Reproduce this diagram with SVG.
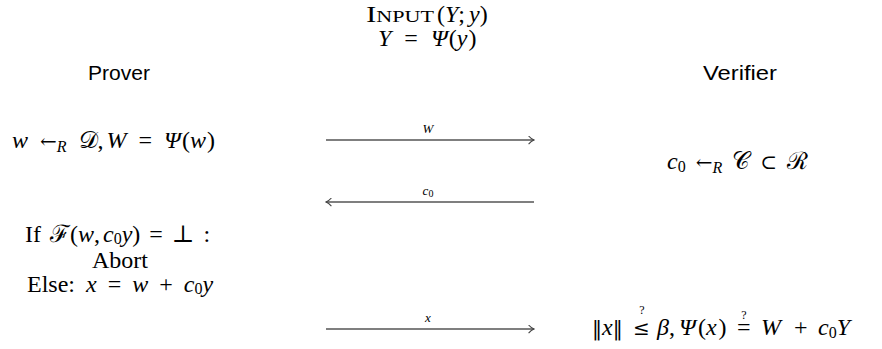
<svg xmlns="http://www.w3.org/2000/svg" width="882" height="349" viewBox="0 0 882 349">
<style>
.m{font-family:"Liberation Serif","DejaVu Serif",serif;font-size:24px;fill:#000}
.ws{word-spacing:4px}
.i{font-style:italic}
.sub{font-size:16px}
.d{font-family:"DejaVu Serif",serif;font-size:20px}
.q{font-family:"Liberation Serif",serif;font-size:12px;fill:#000}
.s{font-family:"Liberation Sans","DejaVu Sans",sans-serif;font-size:20px;fill:#000}
.lbl{font-family:"Liberation Serif",serif;font-style:italic;font-size:13px;fill:#000}
.ar{stroke:#555;stroke-width:1.3;fill:none}
</style>
<defs>
<marker id="ah" viewBox="0 0 10 10" refX="9" refY="5" markerWidth="9" markerHeight="9" markerUnits="userSpaceOnUse" orient="auto-start-reverse">
<path d="M3,0.5 Q6,4 9,5 Q6,6 3,9.5" stroke="#444" stroke-width="1.2" fill="none"/>
</marker>
</defs>
<g id="header">
<text class="m" x="366" y="22" textLength="68" lengthAdjust="spacingAndGlyphs" font-variant="small-caps">Input</text>
<text class="m" x="437" y="22">(<tspan class="i">Y</tspan>;<tspan class="i" dx="4">y</tspan>)</text>
<text class="m" x="378" y="46"><tspan class="i">Y</tspan><tspan dx="13">=</tspan><tspan class="i" dx="13">Ψ</tspan><tspan dx="1">(</tspan><tspan class="i">y</tspan><tspan dx="1">)</tspan></text>
</g>
<g id="prover"><text class="s" x="88" y="80" textLength="62" lengthAdjust="spacingAndGlyphs">Prover</text></g>
<g id="verifier"><text class="s" x="703" y="80" textLength="74" lengthAdjust="spacingAndGlyphs">Verifier</text></g>
<g id="step1"><text class="m" x="12" y="148" style="word-spacing:6px"><tspan class="i">w</tspan> <tspan class="d">←</tspan><tspan class="i sub" dy="4">R</tspan><tspan dy="-4"> 𝒟,</tspan><tspan class="i" dx="3">W</tspan> = <tspan class="i">Ψ</tspan><tspan dx="1">(</tspan><tspan class="i">w</tspan><tspan dx="1">)</tspan></text></g>
<g id="step2"><text class="m ws" x="667" y="169"><tspan class="i">c</tspan><tspan class="sub" dy="3">0</tspan><tspan dy="-3"> </tspan><tspan class="d">←</tspan><tspan class="i sub" dy="4">R</tspan><tspan dy="-4"> 𝒞 </tspan><tspan class="d">⊂</tspan> ℛ</text></g>
<g id="step3">
<text class="m" x="25" y="242" style="word-spacing:3px">If <tspan>ℱ</tspan>(<tspan class="i">w</tspan>,<tspan class="i" dx="3">c</tspan><tspan class="sub" dy="2">0</tspan><tspan class="i" dy="-2">y</tspan>) = ⊥ :</text>
<text class="m" x="120" y="268" text-anchor="middle">Abort</text>
<text class="m" x="27" y="292" style="word-spacing:5px">Else: <tspan class="i">x</tspan> = <tspan class="i">w</tspan> + <tspan class="i">c</tspan><tspan class="sub" dy="2">0</tspan><tspan class="i" dy="-2">y</tspan></text>
</g>
<g id="step4">
<text class="m" y="335"><tspan class="d" x="592">‖</tspan><tspan class="i">x</tspan><tspan class="d">‖</tspan><tspan class="d" x="633" font-size="22">≤</tspan><tspan class="i" x="657">β</tspan>,<tspan class="i" x="679">Ψ</tspan><tspan dx="2">(</tspan><tspan class="i">x</tspan><tspan dx="2">)</tspan><tspan x="737">=</tspan><tspan class="i" x="761">W</tspan><tspan x="794">+</tspan><tspan class="i" x="818">c</tspan><tspan class="sub" dy="3">0</tspan><tspan class="i" dy="-3">Y</tspan></text>
<text class="q" x="642" y="314" text-anchor="middle">?</text>
<text class="q" x="744" y="319" text-anchor="middle">?</text>
</g>
<g id="connectors">
<line class="ar" x1="326" y1="140" x2="534" y2="140" marker-end="url(#ah)"/>
<text class="lbl" x="428" y="133" text-anchor="middle">W</text>
<line class="ar" x1="534" y1="202" x2="326" y2="202" marker-end="url(#ah)"/>
<text class="lbl" x="428" y="195" text-anchor="middle">c<tspan font-style="normal" font-size="10" dy="2">0</tspan></text>
<line class="ar" x1="326" y1="329" x2="534" y2="329" marker-end="url(#ah)"/>
<text class="lbl" x="428" y="322" text-anchor="middle">x</text>
</g>
</svg>
